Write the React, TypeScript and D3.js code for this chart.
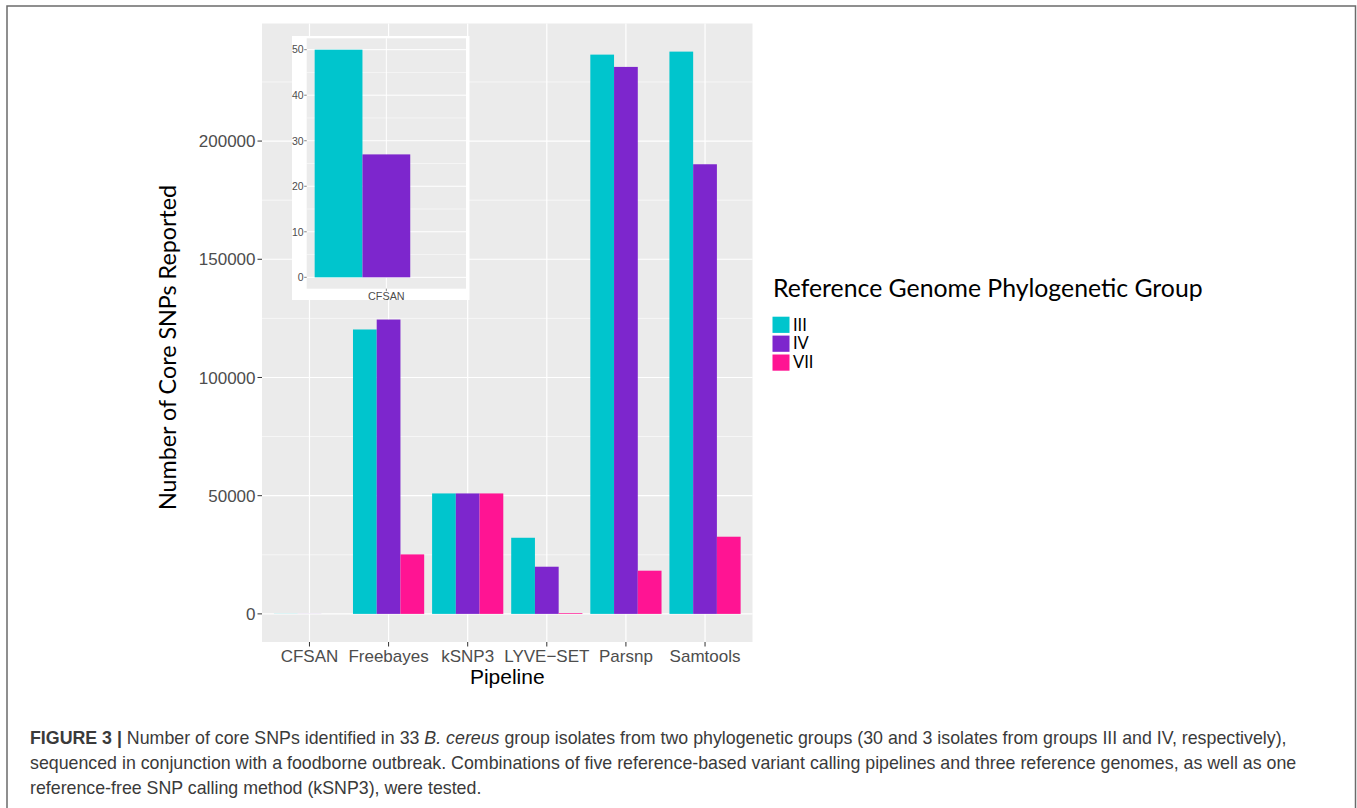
import React from "react";
import * as d3 from "d3";

const pipelines = ["CFSAN", "Freebayes", "kSNP3", "LYVE−SET", "Parsnp", "Samtools"];
const groups = ["III", "IV", "VII"];
const groupIII = [50, 120300, 50950, 32200, 236570, 237840];
const groupIV = [27, 124500, 50950, 19950, 231370, 190190];
const groupVII = [0, 25160, 50950, 300, 18270, 32640];
const yTicks = [0, 50000, 100000, 150000, 200000];
const yMinor = [25000, 75000, 125000, 175000, 225000];
const insetCategory = ["CFSAN"];
const insetIII = [50];
const insetIV = [27];
const insetVII = [0];
const insetTicks = [0, 10, 20, 30, 40, 50];
const insetMinor = [5, 15, 25, 35, 45];
const colors = ["#00C5CD", "#7D26CD", "#FF1493"];

const captionLines = [
  [
    { t: "FIGURE 3 | ", b: true },
    { t: "Number of core SNPs identified in 33 " },
    { t: "B. cereus", i: true },
    { t: " group isolates from two phylogenetic groups (30 and 3 isolates from groups III and IV, respectively)," },
  ],
  [{ t: "sequenced in conjunction with a foodborne outbreak. Combinations of five reference-based variant calling pipelines and three reference genomes, as well as one" }],
  [{ t: "reference-free SNP calling method (kSNP3), were tested." }],
];

export default function App() {
  const series = [groupIII, groupIV, groupVII];
  const maxV = d3.max(series.flat()) as number;
  // main panel
  const pL = 262, pR = 752.5, pT = 23.5, pB = 642;
  const x = d3.scaleLinear().domain([0.4, pipelines.length + 0.6]).range([pL, pR]);
  const y = d3.scaleLinear().domain([-0.05 * maxV, 1.05 * maxV]).range([pB, pT]);
  const unit = x(1) - x(0);
  const bw = (0.9 / groups.length) * unit;

  // inset
  const iL = 306.7, iR = 466, iT = 38.3, iB = 288.7;
  const insetSeries = [insetIII, insetIV, insetVII];
  const iMax = d3.max(insetSeries.flat()) as number;
  const ix = d3.scaleLinear().domain([0.5, insetCategory.length + 0.5]).range([iL, iR]);
  const iy = d3.scaleLinear().domain([-0.05 * iMax, 1.05 * iMax]).range([iB, iT]);
  const iunit = ix(1) - ix(0);
  const ibw = (0.9 / groups.length) * iunit;

  const sans = "'Liberation Sans', Arial, Helvetica, sans-serif";
  const hum = "Lato, 'Open Sans', sans-serif";

  return (
    <svg width={1357} height={808} style={{ position: "absolute", left: 0, top: 0, background: "#fff" }}>
      <rect x={0} y={0} width={1357} height={808} fill="#fff" />
      <rect x={7} y={6} width={1348.5} height={820} fill="none" stroke="#6b6b6b" strokeWidth={1.5} />

      {/* main panel */}
      <rect x={pL} y={pT} width={pR - pL} height={pB - pT} fill="#EBEBEB" />
      {yMinor.map((v) => (
        <line key={"mn" + v} x1={pL} x2={pR} y1={y(v)} y2={y(v)} stroke="#fff" strokeWidth={0.6} />
      ))}
      {yTicks.map((v) => (
        <line key={"mj" + v} x1={pL} x2={pR} y1={y(v)} y2={y(v)} stroke="#fff" strokeWidth={1.2} />
      ))}
      {pipelines.map((p, i) => (
        <line key={"vx" + p} x1={x(i + 1)} x2={x(i + 1)} y1={pT} y2={pB} stroke="#fff" strokeWidth={1.2} />
      ))}
      {pipelines.map((p, i) =>
        series.map((s, g) => {
          const x0 = x(i + 1) - 0.45 * unit + g * bw;
          const v = s[i];
          return (
            <rect key={p + g} x={x0} width={bw} y={y(Math.max(v, 0))} height={Math.abs(y(0) - y(v))} fill={colors[g]} />
          );
        })
      )}
      {/* y axis */}
      {yTicks.map((v) => (
        <g key={"yt" + v}>
          <line x1={pL - 4.5} x2={pL} y1={y(v)} y2={y(v)} stroke="#333" strokeWidth={1} />
          <text x={pL - 6.5} y={y(v)} dy="0.36em" textAnchor="end" fontFamily={sans} fontSize={17} fill="#4d4d4d">
            {v}
          </text>
        </g>
      ))}
      {pipelines.map((p, i) => (
        <g key={"xt" + p}>
          <line x1={x(i + 1)} x2={x(i + 1)} y1={pB} y2={pB + 4.5} stroke="#333" strokeWidth={1} />
          <text x={x(i + 1)} y={662} textAnchor="middle" fontFamily={sans} fontSize={17} fill="#4d4d4d">
            {p}
          </text>
        </g>
      ))}
      <text x={(pL + pR) / 2} y={684} textAnchor="middle" fontFamily={sans} fontSize={21} fill="#000">
        Pipeline
      </text>
      <text
        transform={`translate(176,347.5) rotate(-90)`}
        textAnchor="middle"
        fontFamily={hum}
        fontSize={23.3}
        fill="#000"
      >
        Number of Core SNPs Reported
      </text>

      {/* inset */}
      <rect x={292} y={36} width={177.5} height={264} fill="#fff" />
      <rect x={iL} y={iT} width={iR - iL} height={iB - iT} fill="#EBEBEB" />
      {insetMinor.map((v) => (
        <line key={"imn" + v} x1={iL} x2={iR} y1={iy(v)} y2={iy(v)} stroke="#fff" strokeWidth={0.5} />
      ))}
      {insetTicks.map((v) => (
        <line key={"imj" + v} x1={iL} x2={iR} y1={iy(v)} y2={iy(v)} stroke="#fff" strokeWidth={1} />
      ))}
      {insetCategory.map((c, i) => (
        <line key={"ivx" + c} x1={ix(i + 1)} x2={ix(i + 1)} y1={iT} y2={iB} stroke="#fff" strokeWidth={1} />
      ))}
      {insetCategory.map((c, i) =>
        insetSeries.map((s, g) => {
          const x0 = ix(i + 1) - 0.45 * iunit + g * ibw;
          const v = s[i];
          return <rect key={c + g} x={x0} width={ibw} y={iy(v)} height={iy(0) - iy(v)} fill={colors[g]} />;
        })
      )}
      {insetTicks.map((v) => (
        <g key={"it" + v}>
          <line x1={iL - 2.5} x2={iL} y1={iy(v)} y2={iy(v)} stroke="#333" strokeWidth={0.6} />
          <text x={iL - 3} y={iy(v)} dy="0.36em" textAnchor="end" fontFamily={sans} fontSize={10.5} fill="#4d4d4d">
            {v}
          </text>
        </g>
      ))}
      {insetCategory.map((c, i) => (
        <g key={"ixt" + c}>
          <line x1={ix(i + 1)} x2={ix(i + 1)} y1={iB} y2={iB + 2.5} stroke="#333" strokeWidth={0.6} />
          <text x={ix(i + 1)} y={299.5} textAnchor="middle" fontFamily={sans} fontSize={10.8} fill="#4d4d4d">
            {c}
          </text>
        </g>
      ))}

      {/* legend */}
      <text x={773} y={297} fontFamily={hum} fontSize={24.8} fill="#000">
        Reference Genome Phylogenetic Group
      </text>
      {groups.map((g, k) => (
        <g key={"lg" + g}>
          <rect x={772.5} y={316.7 + k * 18.9} width={17} height={16.2} fill={colors[k]} />
          <text x={793} y={316.7 + k * 18.9 + 13.8} fontFamily={hum} fontSize={16.5} fill="#000">
            {g}
          </text>
        </g>
      ))}

      {/* caption */}
      {captionLines.map((line, li) => (
        <text key={"cap" + li} x={30} y={743.5 + li * 25} fontFamily={sans} fontSize={17.8} fill="#3a3a3a">
          {line.map((seg: any, si: number) => (
            <tspan key={si} fontWeight={seg.b ? "bold" : "normal"} fontStyle={seg.i ? "italic" : "normal"}>
              {seg.t}
            </tspan>
          ))}
        </text>
      ))}
    </svg>
  );
}
